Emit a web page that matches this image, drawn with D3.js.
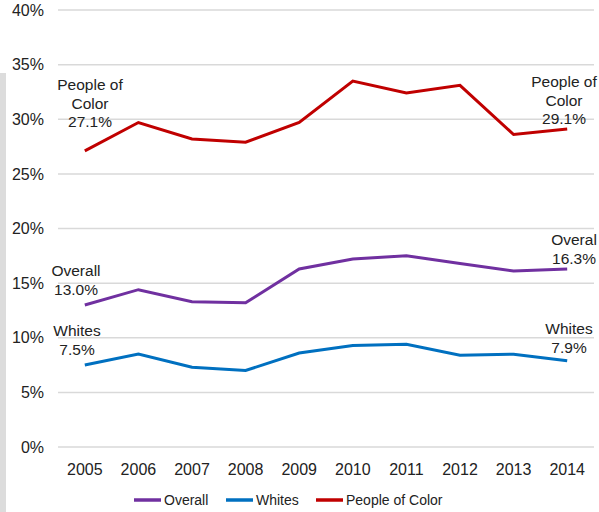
<!DOCTYPE html>
<html><head><meta charset="utf-8">
<script src="https://cdn.jsdelivr.net/npm/d3@7"></script>
<style>body{margin:0;background:#fff}svg{display:block;font-family:"Liberation Sans",Arial,sans-serif}</style>
</head><body><svg id="c" width="599" height="512"></svg>
<script>
const years = ["2005","2006","2007","2008","2009","2010","2011","2012","2013","2014"];
const overall = [13.0,14.4,13.3,13.2,16.3,17.2,17.5,16.8,16.1,16.3];
const whites = [7.5,8.5,7.3,7.0,8.6,9.3,9.4,8.4,8.5,7.9];
const poc = [27.1,29.7,28.2,27.9,29.7,33.5,32.4,33.1,28.6,29.1];
const yTicks = [0,5,10,15,20,25,30,35,40];
const seriesNames = ["Overall","Whites","People of Color"];
const colors = ["#7030A0","#0070C0","#C00000"];

const svg = d3.select("#c");
// left grey strip
svg.append("rect").attr("x",0).attr("y",73).attr("width",6).attr("height",439).attr("fill","#dcdcdc");

const x = d3.scaleBand().domain(years).range([58,594]);
const y = d3.scaleLinear().domain([0,40]).range([447,10]);

// gridlines
svg.append("g").selectAll("line").data(yTicks).join("line")
  .attr("x1",58).attr("x2",594).attr("y1",d=>y(d)).attr("y2",d=>y(d))
  .attr("stroke","#d9d9d9").attr("stroke-width",1.5);

// y axis labels
const ya = svg.append("g").attr("transform","translate(44,0)")
  .call(d3.axisLeft(y).tickValues(yTicks).tickSize(0).tickPadding(0).tickFormat(d=>d+"%"));
ya.select(".domain").remove();
ya.selectAll("text").attr("font-size",16).attr("fill","#222").attr("font-family","Liberation Sans, Arial, sans-serif");

// x axis labels
const xa = svg.append("g").attr("transform","translate(0,458)")
  .call(d3.axisBottom(x).tickSize(0).tickPadding(6));
xa.select(".domain").remove();
xa.selectAll("text").attr("font-size",16).attr("fill","#222").attr("font-family","Liberation Sans, Arial, sans-serif");

const line = d3.line().x((d,i)=>x(years[i])+x.bandwidth()/2).y(d=>y(d));
[overall,whites,poc].forEach((s,k)=>{
  svg.append("path").datum(s).attr("d",line).attr("fill","none")
    .attr("stroke",colors[k]).attr("stroke-width",3).attr("stroke-linejoin","miter");
});

// annotations
const ann = [
  {x:90,y:90,lines:["People of","Color","27.1%"]},
  {x:76,y:276,lines:["Overall","13.0%"]},
  {x:77,y:336,lines:["Whites","7.5%"]},
  {x:564,y:87,lines:["People of","Color","29.1%"]},
  {x:574,y:245,lines:["Overal","16.3%"]},
  {x:569,y:334,lines:["Whites","7.9%"]}
];
ann.forEach(a=>{
  const t = svg.append("text").attr("text-anchor","middle").attr("font-size",15.5).attr("fill","#222");
  a.lines.forEach((l,i)=>t.append("tspan").attr("x",a.x).attr("y",a.y+i*18.5).text(l));
});

// legend
const legX = [134,226,316];
const lg = svg.append("g");
seriesNames.forEach((n,i)=>{
  lg.append("line").attr("x1",legX[i]).attr("x2",legX[i]+27).attr("y1",500).attr("y2",500)
    .attr("stroke",colors[i]).attr("stroke-width",3.5);
  lg.append("text").attr("x",legX[i]+30).attr("y",505).attr("font-size",14).attr("fill","#222").text(n);
});
</script></body></html>
